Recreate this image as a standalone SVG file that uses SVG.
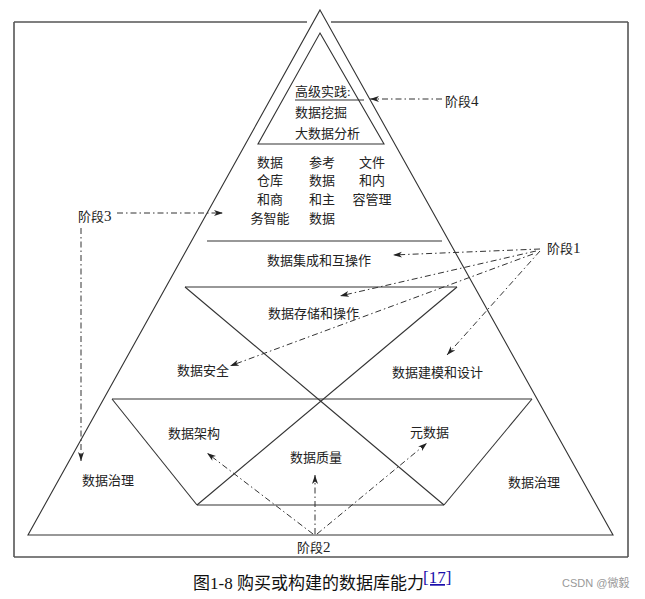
<svg xmlns="http://www.w3.org/2000/svg" width="645" height="599" viewBox="0 0 645 599">
<defs>
<style>
.ln{stroke:#333;stroke-width:1.1;fill:none}
.fr{stroke:#555;stroke-width:1.6;fill:none}
.dd{stroke:#333;stroke-width:1;fill:none;stroke-dasharray:6 3 1.5 3}
.t{font-family:"Liberation Serif","Noto Sans CJK SC",serif;font-size:13px;fill:#222}
.m{text-anchor:middle}
.d{font-size:15px}
</style>
<marker id="ah" markerWidth="10" markerHeight="7" refX="9" refY="3.5" orient="auto" markerUnits="userSpaceOnUse">
<path d="M0,0.5 L9,3.5 L0,6.5 L2.5,3.5 z" fill="#222"/>
</marker>
</defs>
<rect width="645" height="599" fill="#fff"/>
<g id="frame">
<line class="fr" x1="14" y1="22" x2="14" y2="557"/>
<line class="fr" x1="628" y1="22" x2="628" y2="557"/>
<line class="fr" x1="14" y1="557" x2="628" y2="557"/>
<line class="fr" x1="14" y1="22" x2="307" y2="22"/>
<line class="fr" x1="331" y1="22" x2="628" y2="22"/>
</g>
<g id="pyramid">
<polygon class="ln" points="320,10 613,535 28,535"/>
<polygon class="ln" points="320,33 384,144 258,144"/>
<line class="ln" x1="295" y1="100" x2="364" y2="100"/>
<line class="ln" x1="207" y1="241" x2="442" y2="241"/>
<line class="ln" x1="185" y1="287" x2="457" y2="287"/>
<line class="ln" x1="185" y1="287" x2="444" y2="505"/>
<line class="ln" x1="457" y1="287" x2="197" y2="505"/>
<line class="ln" x1="112" y1="399" x2="532" y2="399"/>
<line class="ln" x1="112" y1="399" x2="197" y2="505"/>
<line class="ln" x1="532" y1="399" x2="444" y2="505"/>
<line class="ln" x1="197" y1="505" x2="444" y2="505"/>
</g>
<g id="stage4-node">
<text class="t" x="295" y="96">高级实践:</text>
<text class="t" x="295" y="117">数据挖掘</text>
<text class="t" x="295" y="138">大数据分析</text>
</g>
<g id="stage3-node">
<text class="t m" x="270" y="167">数据</text>
<text class="t m" x="270" y="185">仓库</text>
<text class="t m" x="270" y="204">和商</text>
<text class="t m" x="270" y="223">务智能</text>
<text class="t m" x="322" y="167">参考</text>
<text class="t m" x="322" y="185">数据</text>
<text class="t m" x="322" y="204">和主</text>
<text class="t m" x="322" y="223">数据</text>
<text class="t m" x="372" y="167">文件</text>
<text class="t m" x="372" y="185">和内</text>
<text class="t m" x="372" y="204">容管理</text>
</g>
<g id="integration"><text class="t" x="267" y="265">数据集成和互操作</text></g>
<g id="storage"><text class="t" x="268" y="318">数据存储和操作</text></g>
<g id="security"><text class="t" x="177" y="375">数据安全</text></g>
<g id="modeling"><text class="t" x="392" y="377">数据建模和设计</text></g>
<g id="architecture"><text class="t" x="168" y="438">数据架构</text></g>
<g id="quality"><text class="t" x="290" y="462">数据质量</text></g>
<g id="metadata"><text class="t" x="410" y="437">元数据</text></g>
<g id="governance-left"><text class="t" x="82" y="485">数据治理</text></g>
<g id="governance-right"><text class="t" x="508" y="487">数据治理</text></g>
<g id="stage1"><text class="t" x="547" y="253">阶段<tspan class="d">1</tspan></text></g>
<g id="stage2"><text class="t" x="297" y="552">阶段<tspan class="d">2</tspan></text></g>
<g id="stage3"><text class="t" x="78" y="221">阶段<tspan class="d">3</tspan></text></g>
<g id="stage4"><text class="t" x="445" y="106">阶段<tspan class="d">4</tspan></text></g>
<g id="connectors">
<line class="dd" x1="442" y1="99" x2="370" y2="99" marker-end="url(#ah)"/>
<line class="dd" x1="117" y1="213" x2="223" y2="213" marker-end="url(#ah)"/>
<line class="dd" x1="81" y1="228" x2="81" y2="461" marker-end="url(#ah)"/>
<line class="dd" x1="540" y1="249" x2="393" y2="255" marker-end="url(#ah)"/>
<line class="dd" x1="536" y1="251" x2="340" y2="296" marker-end="url(#ah)"/>
<line class="dd" x1="533" y1="254" x2="230" y2="366" marker-end="url(#ah)"/>
<line class="dd" x1="540" y1="251" x2="447" y2="355" marker-end="url(#ah)"/>
<line class="dd" x1="313" y1="534" x2="207" y2="453" marker-end="url(#ah)"/>
<line class="dd" x1="315" y1="534" x2="315" y2="475" marker-end="url(#ah)"/>
<line class="dd" x1="317" y1="534" x2="427" y2="443" marker-end="url(#ah)"/>
</g>
<g id="caption">
<text x="193" y="589" style="font-family:'Liberation Serif','Noto Sans CJK SC',serif;font-size:17px;fill:#111">图1-8 购买或构建的数据库能力</text>
<text x="423" y="583" style="font-family:'Liberation Serif',serif;font-size:17px;fill:#1a0dab;text-decoration:underline">[17]</text>
<text x="562" y="587" style="font-family:'Liberation Sans','Noto Sans CJK SC',sans-serif;font-size:11px;fill:#999">CSDN @微毅</text>
</g>
</svg>
